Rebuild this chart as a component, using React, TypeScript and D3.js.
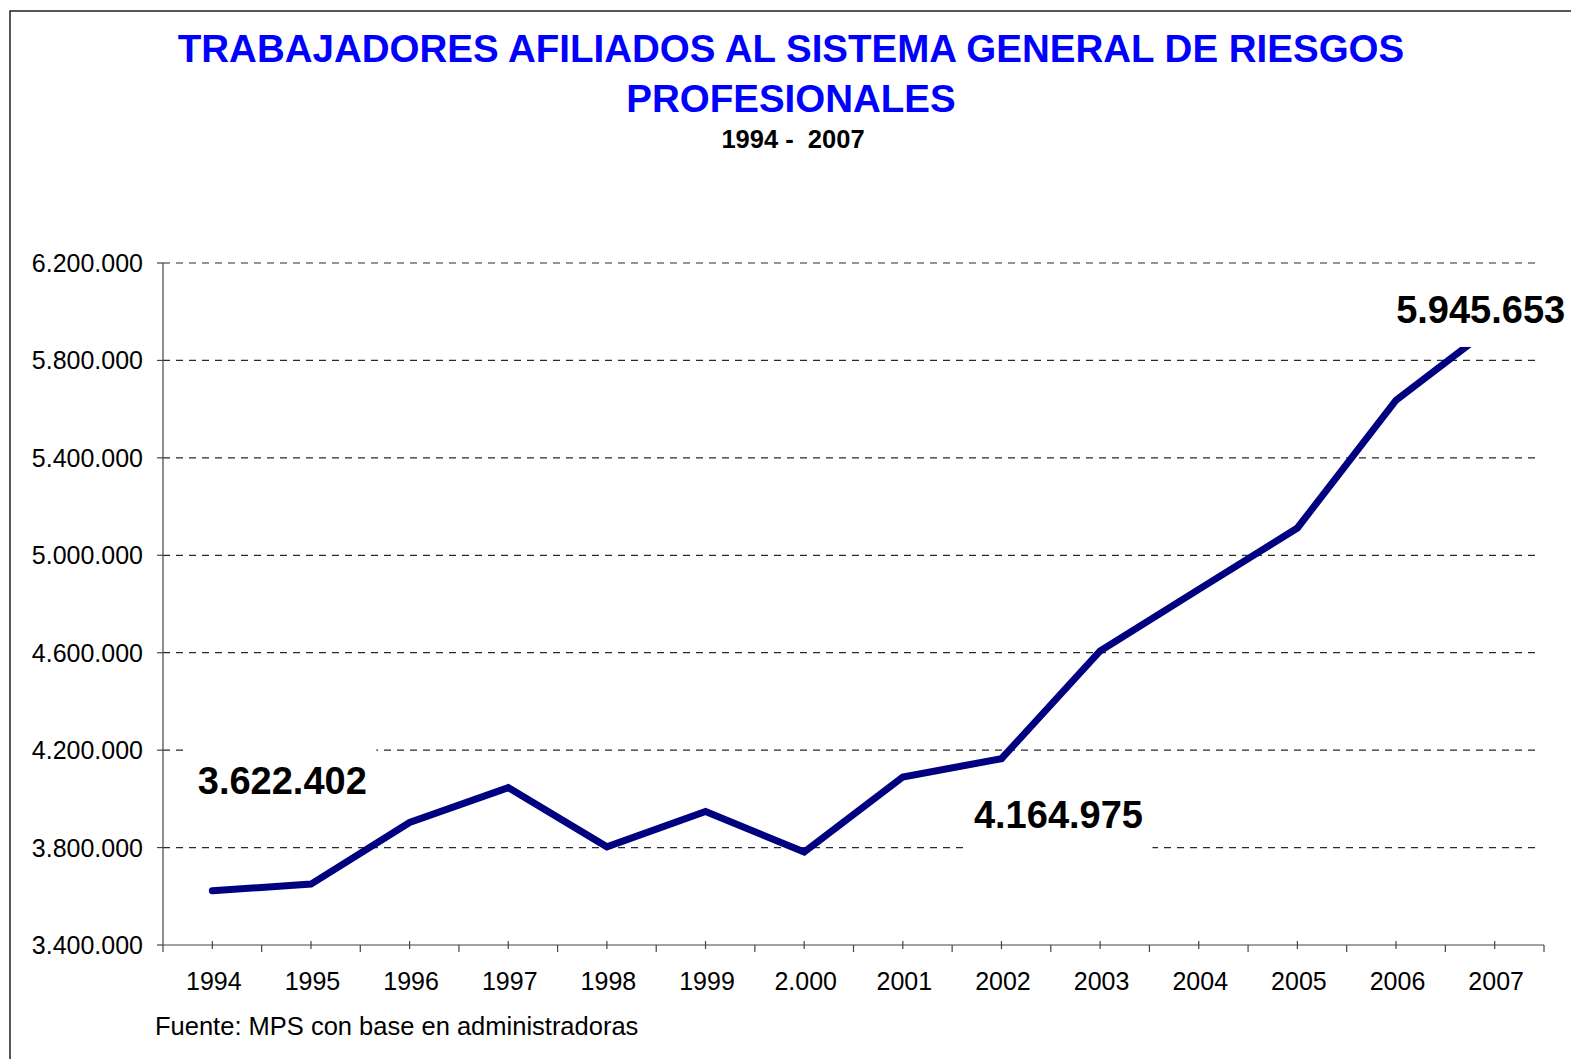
import React from "react";
import * as d3 from "d3";

const categories = ["1994", "1995", "1996", "1997", "1998", "1999", "2.000", "2001", "2002", "2003", "2004", "2005", "2006", "2007"];
const afiliados = [3622402, 3650000, 3903000, 4046000, 3803000, 3948000, 3782000, 4090000, 4164975, 4607000, 4860000, 5112000, 5637000, 5945653];
const yTicks = [3400000, 3800000, 4200000, 4600000, 5000000, 5400000, 5800000, 6200000];
const titleLines = ["TRABAJADORES AFILIADOS AL SISTEMA GENERAL DE RIESGOS", "PROFESIONALES"];
const subtitle = "1994 -  2007";
const source = "Fuente: MPS con base en administradoras";
// indices of annotated points
const annotatedIdx = [0, 8, 13];

const W = 1571;
const H = 1059;
const FONT = "'Liberation Sans', Arial, Helvetica, sans-serif";

export default function App() {
  const left = 163, right = 1544, top = 263, bottom = 945;
  const x = d3.scaleBand<string>().domain(categories).range([left, right]).padding(0);
  const y = d3.scaleLinear().domain([3400000, 6200000]).range([bottom, top]);
  const loc = d3.formatLocale({ decimal: ",", thousands: ".", grouping: [3], currency: ["$", ""] });
  const fmt = loc.format(",d");
  const cx = (c: string) => (x(c) as number) + x.bandwidth() / 2;

  const line = d3
    .line<number>()
    .x((_, i) => cx(categories[i]))
    .y((d) => y(d));

  const offsets: Record<number, [number, number]> = { 0: [70, -97], 8: [57, 69], 13: [-14, -2] };

  const boundaries = d3.range(categories.length + 1).map((i) => left + i * x.bandwidth());

  return (
    <svg width={W} height={H} style={{ position: "absolute", left: 0, top: 0, background: "#fff" }} fontFamily={FONT}>
      <rect x={0} y={0} width={W} height={H} fill="#fff" />
      <rect x={10} y={11} width={1700} height={1200} fill="none" stroke="#222" strokeWidth={1.5} />

      {titleLines.map((t, i) => (
        <text key={t} x={791} y={62 + i * 50} textAnchor="middle" fontSize={38.5} fontWeight="bold" fill="#0000FF">
          {t}
        </text>
      ))}
      <text x={793} y={148} textAnchor="middle" fontSize={25.5} fontWeight="bold" fill="#000" style={{ whiteSpace: "pre" }}>
        {subtitle}
      </text>

      {/* gridlines */}
      {yTicks.slice(1).map((v) => (
        <line key={v} x1={left} x2={1539} y1={y(v)} y2={y(v)} stroke="#2a2a2a" strokeWidth={1.2} strokeDasharray="7 6" />
      ))}

      {/* y axis */}
      <line x1={left} x2={left} y1={top} y2={bottom} stroke="#444" strokeWidth={1.2} />
      {yTicks.map((v) => (
        <g key={v}>
          <line x1={157} x2={left} y1={y(v)} y2={y(v)} stroke="#444" strokeWidth={1.2} />
          <text x={143} y={y(v) + 9} textAnchor="end" fontSize={25} fill="#000">
            {fmt(v)}
          </text>
        </g>
      ))}

      {/* x axis */}
      <line x1={left} x2={right} y1={bottom} y2={bottom} stroke="#444" strokeWidth={1.2} />
      {boundaries.map((b, i) => (
        <line key={"b" + i} x1={b} x2={b} y1={bottom} y2={bottom + 7} stroke="#444" strokeWidth={1.2} />
      ))}
      {categories.map((c) => (
        <g key={c}>
          <line x1={cx(c)} x2={cx(c)} y1={bottom - 4} y2={bottom + 4} stroke="#444" strokeWidth={1.2} />
          <text x={cx(c) + 1.5} y={990} textAnchor="middle" fontSize={25} fill="#000">
            {c}
          </text>
        </g>
      ))}

      {/* data line */}
      <path d={line(afiliados) || ""} fill="none" stroke="#000080" strokeWidth={7} strokeLinejoin="miter" strokeLinecap="round" />

      {/* annotations */}
      {annotatedIdx.map((i) => {
        const [dx, dy] = offsets[i];
        const tx = cx(categories[i]) + dx;
        const ty = y(afiliados[i]) + dy;
        return (
          <g key={"a" + i}>
            <rect x={tx - 94} y={ty - 46} width={188} height={70} fill="#fff" />
            <text x={tx} y={ty} textAnchor="middle" fontSize={38} fontWeight="bold" fill="#000">
              {fmt(afiliados[i])}
            </text>
          </g>
        );
      })}

      <text x={155} y={1035} fontSize={25.5} fill="#000">
        {source}
      </text>
    </svg>
  );
}
